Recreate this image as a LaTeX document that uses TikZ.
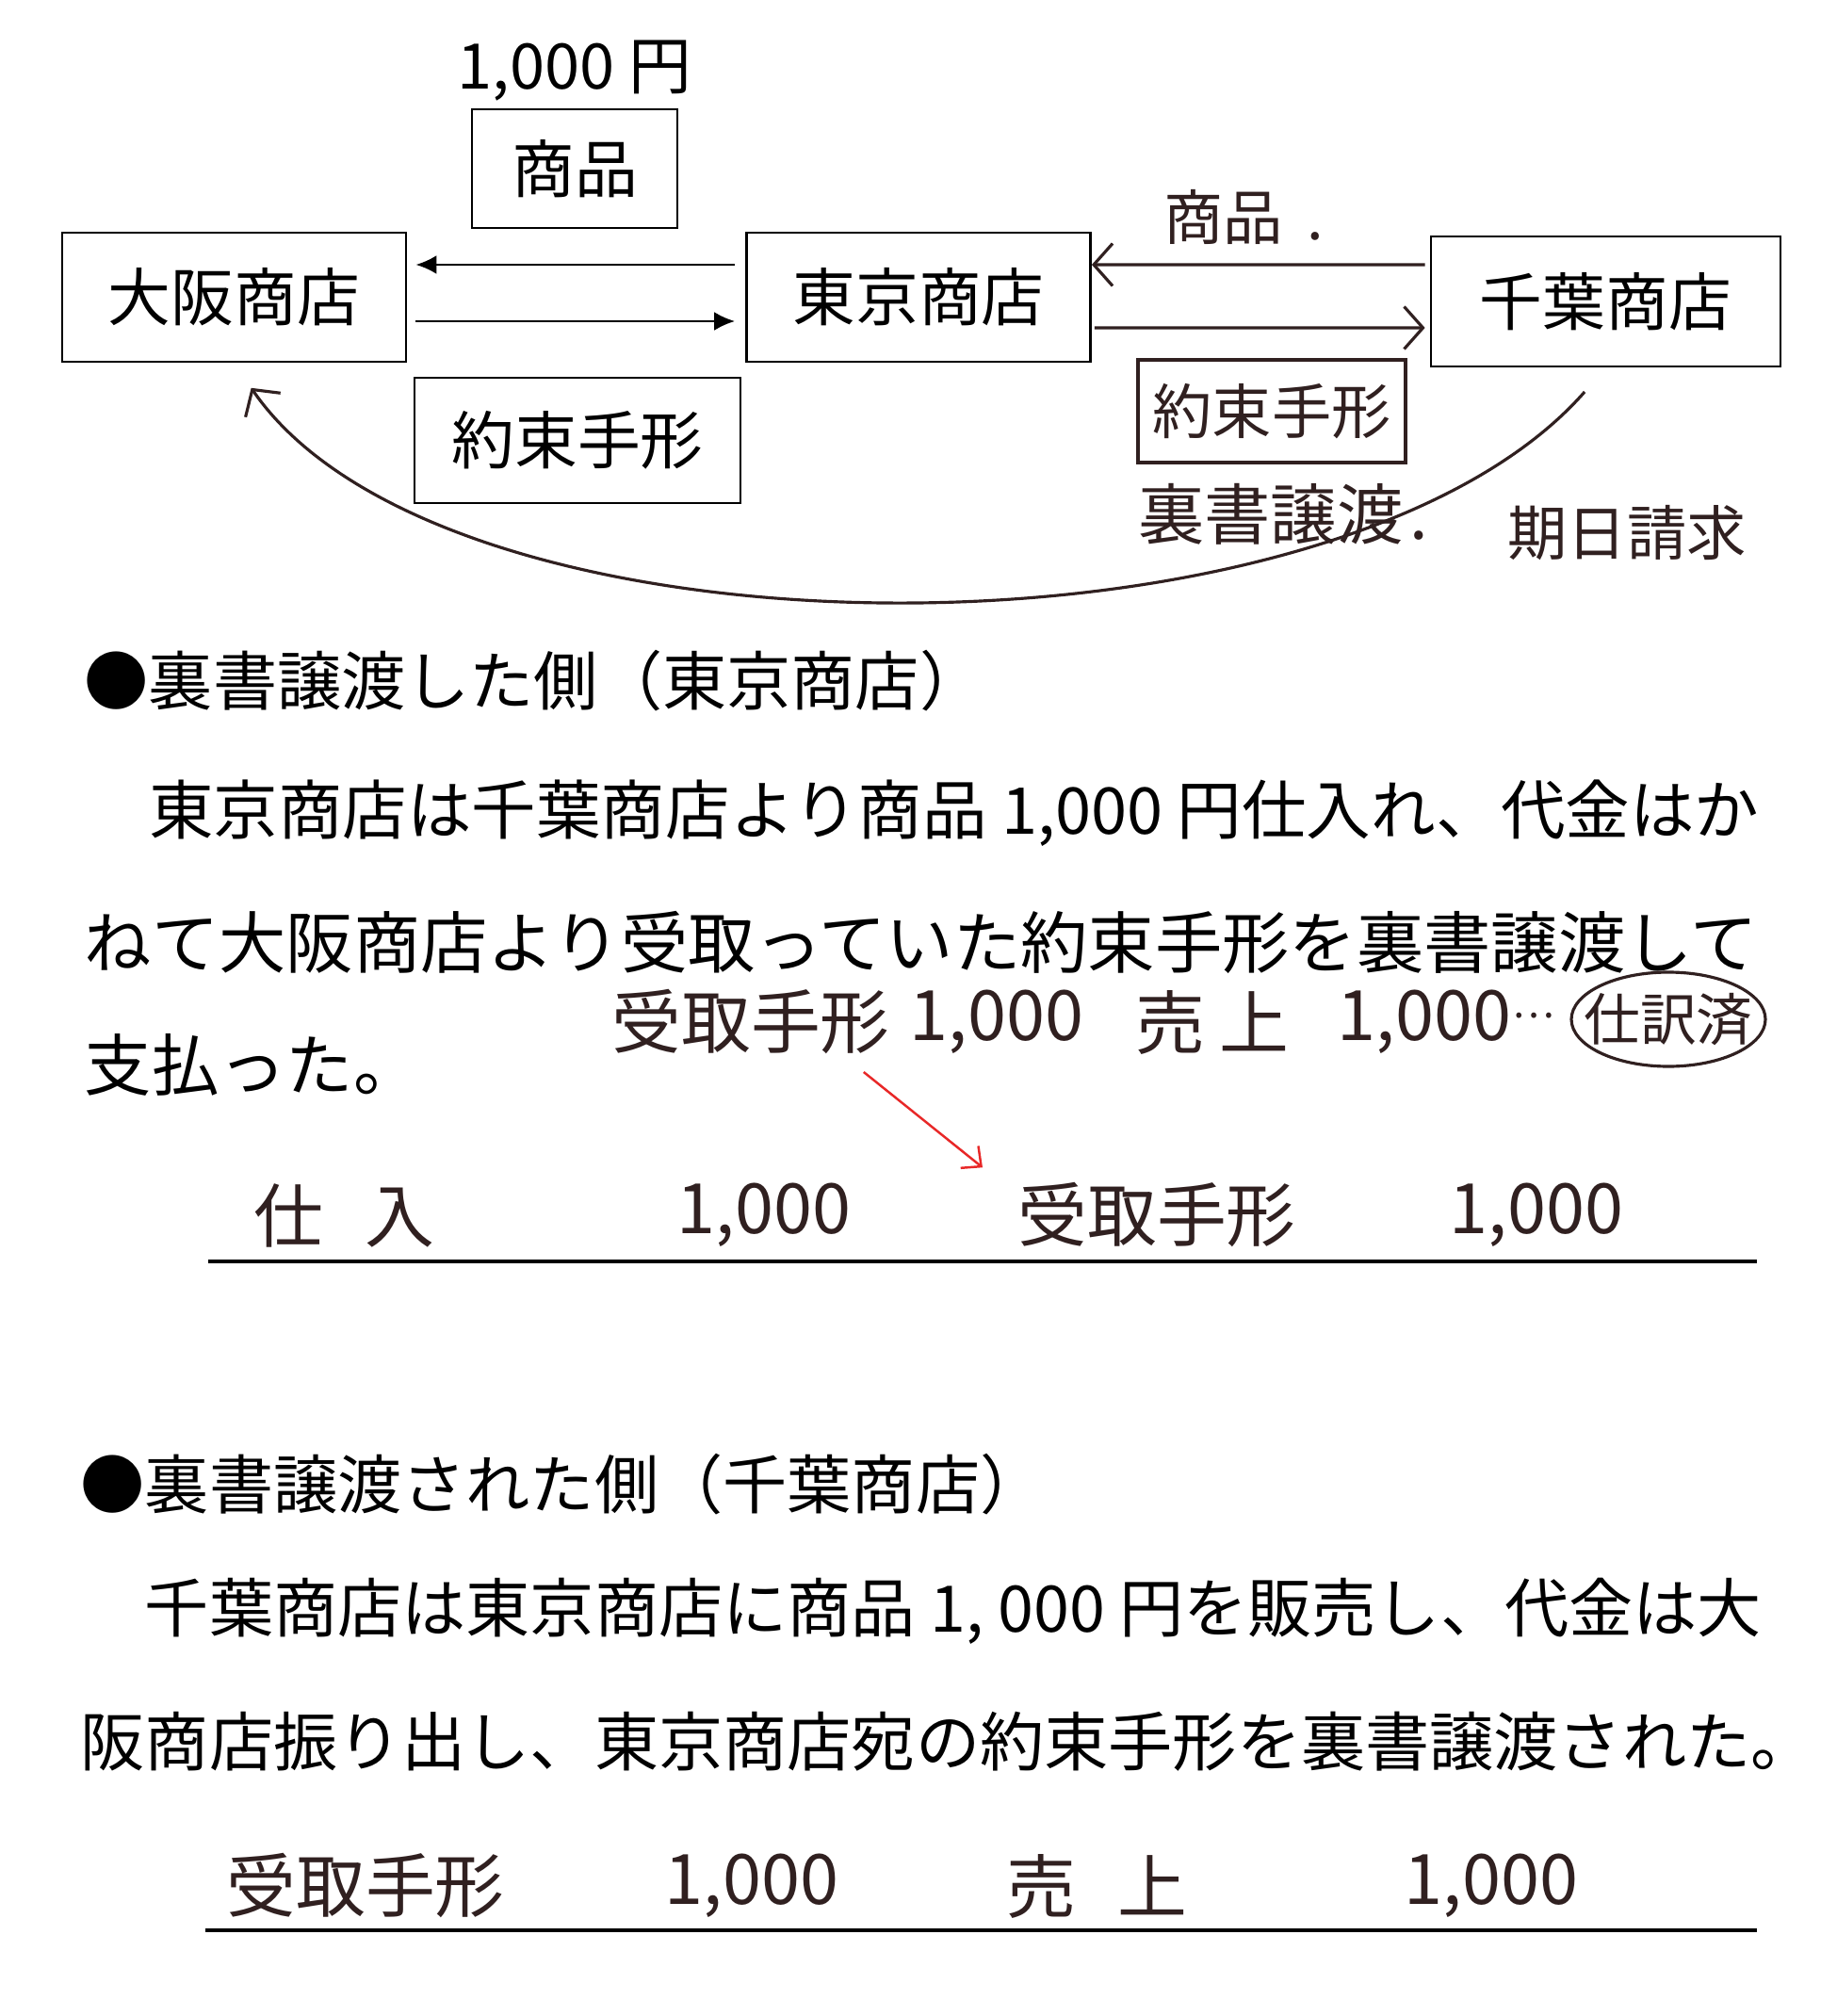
\documentclass[tikz,border=0pt]{standalone}
\usepackage{fontspec}
\setmainfont{Noto Sans CJK JP}
\usepackage{tikz}
\usetikzlibrary{positioning, arrows.meta, shapes.geometric}
\definecolor{handink}{RGB}{48,32,32}
\definecolor{redink}{RGB}{232,40,40}

\begin{document}
\begin{tikzpicture}[
    shopbox/.style={draw, thick, minimum width=3.65cm, minimum height=1.37cm, font=\fontsize{19}{22}\selectfont},
    itembox/.style={draw, thick, font=\fontsize{19}{22}\selectfont},
    flow/.style={thick, -{Latex[length=2.2mm, width=2mm]}},
    hand/.style={text=handink, font=\fontsize{18}{21}\selectfont},
    handflow/.style={draw=handink, line width=0.9pt, -{Straight Barb[length=2mm, width=4.5mm]}},
    headtext/.style={anchor=west, inner sep=0pt, font=\fontsize{19.4}{22}\selectfont},
    bodytext/.style={anchor=west, inner sep=0pt, font=\fontsize{20.3}{24}\selectfont},
    bodytextb/.style={anchor=west, inner sep=0pt, font=\fontsize{19.4}{23}\selectfont},
    entry/.style={text=handink, font=\fontsize{21}{24}\selectfont},
    rule/.style={line width=1.3pt}
]
\useasboundingbox (0,0) rectangle (19.49,-21.40);

% flow of the note
\node[font=\fontsize{19}{22}\selectfont] (price) at (6.10,-0.75) {1,000 円};
\node[itembox, minimum width=2.18cm, minimum height=1.26cm] (goods) at (6.10,-1.79) {商品};
\node[shopbox] (osaka) at (2.485,-3.155) {大阪商店};
\node[shopbox] (tokyo) at (9.75,-3.155) {東京商店};
\node[shopbox, minimum width=3.71cm, minimum height=1.38cm] (chiba) at (17.045,-3.20) {千葉商店};
\node[itembox, minimum width=3.46cm, minimum height=1.33cm] (note) at (6.13,-4.675) {約束手形};

\draw[flow, shorten <=1.1mm, shorten >=0.9mm] ([yshift=3.45mm]tokyo.west) -- ([yshift=3.45mm]osaka.east);
\draw[flow, shorten <=0.9mm, shorten >=1.1mm] ([yshift=-2.55mm]osaka.east) -- ([yshift=-2.55mm]tokyo.west);

\node[hand] (handgoods) at (13.20,-2.30) {商品\hspace{0.4em}.};
\draw[handflow, shorten <=0.5mm] ([yshift=3.9mm]chiba.west) -- ([yshift=3.45mm]tokyo.east);
\draw[handflow, shorten <=0.3mm, shorten >=0.5mm] ([yshift=-3.25mm]tokyo.east) -- ([yshift=-2.8mm]chiba.west);
\node[hand, draw=handink, line width=0.9pt, minimum width=2.84cm, minimum height=1.09cm] (handnote) at (13.50,-4.365) {約束手形};
\node[hand, font=\fontsize{20}{23}\selectfont] (endorse) at (13.62,-5.46) {裏書譲渡\hspace{0.1em}.};
\node[hand] (claim) at (17.27,-5.66) {期日請求};

\draw[handflow, shorten <=3.4mm, shorten >=3.2mm] (chiba.south) .. controls (14.2,-7.15) and (4.75,-7.15) .. (osaka.south);

% endorsing side
\node[headtext] (headA) at (0.89,-7.23) {●裏書譲渡した側（東京商店）};
\node[bodytext, font=\fontsize{19.5}{24}\selectfont] (lineA1) at (0.89,-8.63) {　東京商店は千葉商店より商品 1,000 円仕入れ、代金はか};
\node[bodytext] (lineA2) at (0.89,-10.00) {ねて大阪商店より受取っていた約束手形を裏書譲渡して};
\node[bodytext] (lineA3) at (0.89,-11.30) {支払った。};

\node[entry] (memoacct) at (7.97,-10.85) {受取手形};
\node[entry] (memoamt) at (10.58,-10.85) {1,000};
\node[entry] (memosales) at (12.87,-10.85) {売\hspace{0.2em}上};
\node[entry] (memoamtb) at (15.12,-10.85) {1,000};
\node[entry, font=\fontsize{12}{14}\selectfont] (memodots) at (16.28,-10.78) {…};
\node[entry, font=\fontsize{17}{20}\selectfont, inner sep=0pt] (memodone) at (17.71,-10.82) {仕訳済};
\draw[draw=handink, line width=0.9pt] (memodone.center) ellipse (1.03cm and 0.5cm);

\node[entry] (drA) at (3.65,-12.90) {仕\hspace{0.6em}入};
\node[entry] (dramtA) at (8.11,-12.90) {1,000};
\node[entry] (crA) at (12.28,-12.90) {受取手形};
\node[entry] (cramtA) at (16.31,-12.90) {1,000};
\coordinate (ruleAl) at (2.21,-13.39);
\coordinate (ruleAr) at (18.65,-13.39);
\draw[rule] (ruleAl) -- (ruleAr);

\draw[draw=redink, line width=0.7pt, -{Straight Barb[length=1.6mm, width=3mm]}, shorten <=1mm] ([xshift=-4.8mm]memoacct.south east) -- ([xshift=-2.5mm, yshift=0.4mm]crA.north west);

% endorsed side
\node[headtext] (headB) at (0.85,-15.76) {●裏書譲渡された側（千葉商店）};
\node[bodytextb] (lineB1) at (0.85,-17.10) {　千葉商店は東京商店に商品 1, 000 円を販売し、代金は大};
\node[bodytextb] (lineB2) at (0.85,-18.49) {阪商店振り出し、東京商店宛の約束手形を裏書譲渡された。};

\node[entry] (drB) at (3.88,-20.02) {受取手形};
\node[entry] (dramtB) at (7.98,-20.02) {1,000};
\node[entry] (crB) at (11.64,-20.02) {売\hspace{0.6em}上};
\node[entry] (cramtB) at (15.83,-20.02) {1,000};
\coordinate (ruleBl) at (2.18,-20.49);
\coordinate (ruleBr) at (18.65,-20.49);
\draw[rule] (ruleBl) -- (ruleBr);
\end{tikzpicture}
\end{document}
